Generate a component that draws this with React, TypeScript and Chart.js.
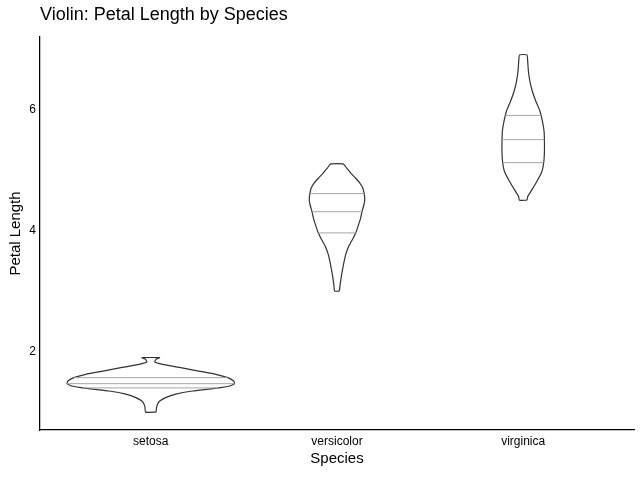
import React, { useEffect, useRef } from "react";
import { Chart, registerables } from "chart.js";

Chart.register(...registerables);

const TITLE = "Violin: Petal Length by Species";
const X_LABEL = "Species";
const Y_LABEL = "Petal Length";
const species = ["setosa", "versicolor", "virginica"];
const yTicks = [2, 4, 6];

// profile of each violin: petal length values (bottom to top) and half-width (category units)
const setosaY = [1.0, 1.074, 1.129, 1.183, 1.239, 1.294, 1.349, 1.404, 1.431, 1.47, 1.513, 1.569, 1.624, 1.678, 1.734, 1.789, 1.827, 1.871, 1.9];
const setosaW = [0.028, 0.031, 0.036, 0.048, 0.08, 0.129, 0.224, 0.375, 0.424, 0.45, 0.445, 0.413, 0.349, 0.257, 0.161, 0.063, 0.021, 0.028, 0.047];

const versicolorY = [3.0, 3.109, 3.274, 3.439, 3.604, 3.741, 3.851, 3.962, 4.071, 4.182, 4.308, 4.429, 4.512, 4.606, 4.705, 4.787, 4.87, 4.952, 5.034, 5.1];
const versicolorW = [0.013, 0.017, 0.025, 0.035, 0.047, 0.063, 0.083, 0.101, 0.113, 0.125, 0.134, 0.145, 0.149, 0.146, 0.138, 0.122, 0.098, 0.073, 0.051, 0.033];

const virginicaY = [4.5, 4.566, 4.649, 4.814, 4.979, 5.144, 5.309, 5.474, 5.639, 5.804, 5.969, 6.134, 6.299, 6.464, 6.629, 6.794, 6.9];
const virginicaW = [0.02, 0.025, 0.042, 0.074, 0.101, 0.111, 0.114, 0.114, 0.112, 0.103, 0.09, 0.068, 0.049, 0.036, 0.028, 0.024, 0.02];

// quartile lines (Q1, median, Q3)
const setosaQ = [1.4, 1.47, 1.57];
const versicolorQ = [3.96, 4.31, 4.61];
const virginicaQ = [5.12, 5.5, 5.9];

const FONT = '"Liberation Sans", Arial, sans-serif';
const OUTLINE = "#333333";
const QUART = "#a6a6a6";

function widthAt(ys: number[], ws: number[], v: number) {
  for (let i = 0; i < ys.length - 1; i++) {
    if (v >= ys[i] && v <= ys[i + 1]) {
      const t = (v - ys[i]) / (ys[i + 1] - ys[i]);
      return ws[i] + t * (ws[i + 1] - ws[i]);
    }
  }
  return 0;
}

function outline(c: number, ys: number[], ws: number[]) {
  const pts: { x: number; y: number }[] = [];
  for (let i = 0; i < ys.length; i++) pts.push({ x: c + ws[i], y: ys[i] });
  for (let i = ys.length - 1; i >= 0; i--) pts.push({ x: c - ws[i], y: ys[i] });
  pts.push({ x: c + ws[0], y: ys[0] });
  return pts;
}

export default function App() {
  const ref = useRef<HTMLCanvasElement | null>(null);

  useEffect(() => {
    if (!ref.current) return;
    const profiles = [
      { ys: setosaY, ws: setosaW, q: setosaQ },
      { ys: versicolorY, ws: versicolorW, q: versicolorQ },
      { ys: virginicaY, ws: virginicaW, q: virginicaQ },
    ];
    const datasets: any[] = [];
    profiles.forEach((p, c) => {
      p.q.forEach((qv) => {
        const w = widthAt(p.ys, p.ws, qv);
        datasets.push({
          label: species[c] + " q",
          data: [
            { x: c - w, y: qv },
            { x: c + w, y: qv },
          ],
          showLine: true,
          borderColor: QUART,
          borderWidth: 1,
          pointRadius: 0,
          fill: false,
        });
      });
      datasets.push({
        label: species[c],
        data: outline(c, p.ys, p.ws),
        showLine: true,
        borderColor: OUTLINE,
        borderWidth: 1.2,
        pointRadius: 0,
        fill: false,
        tension: 0.15,
      });
    });

    const titlePlugin = {
      id: "leftTitle",
      afterDraw(chart: any) {
        const ctx = chart.ctx;
        ctx.save();
        ctx.font = `18px ${FONT}`;
        ctx.fillStyle = "#000";
        ctx.textAlign = "left";
        ctx.textBaseline = "alphabetic";
        ctx.fillText(TITLE, chart.chartArea.left, 20);
        ctx.restore();
      },
    };

    const chart = new Chart(ref.current, {
      type: "scatter",
      data: { datasets },
      options: {
        animation: false,
        responsive: false,
        devicePixelRatio: 1,
        layout: { padding: { top: 37, right: 6, left: 0, bottom: 0 } },
        plugins: {
          legend: { display: false },
          tooltip: { enabled: false },
          title: { display: false },
        },
        scales: {
          x: {
            type: "linear",
            min: -0.595,
            max: 2.595,
            afterBuildTicks: (s: any) => {
              s.ticks = species.map((_, i) => ({ value: i }));
            },
            afterFit: (s: any) => {
              s.height = 50;
            },
            ticks: {
              callback: (v: any) => species[v as number],
              font: { family: FONT, size: 12 },
              color: "#000",
              padding: 4,
              maxRotation: 0,
              autoSkip: false,
            },
            grid: { display: false, drawTicks: false, tickLength: 0 },
            border: { display: true, color: "#000", width: 1.25 },
            title: {
              display: true,
              text: X_LABEL,
              font: { family: FONT, size: 15 },
              color: "#000",
              padding: { top: 0, bottom: 12 },
            },
          },
          y: {
            type: "linear",
            min: 0.705,
            max: 7.195,
            afterBuildTicks: (s: any) => {
              s.ticks = yTicks.map((v) => ({ value: v }));
            },
            afterFit: (s: any) => {
              s.width = 40;
            },
            ticks: {
              callback: (v: any) => String(v),
              font: { family: FONT, size: 12 },
              color: "#000",
              padding: 4,
            },
            grid: { display: false, drawTicks: false, tickLength: 0 },
            border: { display: true, color: "#000", width: 1.25 },
            title: {
              display: true,
              text: Y_LABEL,
              font: { family: FONT, size: 15 },
              color: "#000",
              padding: { top: 7, bottom: 0 },
            },
          },
        },
      },
      plugins: [titlePlugin],
    });
    return () => chart.destroy();
  }, []);

  return (
    <div style={{ position: "absolute", left: 0, top: 0, width: 640, height: 480 }}>
      <canvas ref={ref} width={640} height={480} style={{ display: "block", width: 640, height: 480 }} />
    </div>
  );
}
